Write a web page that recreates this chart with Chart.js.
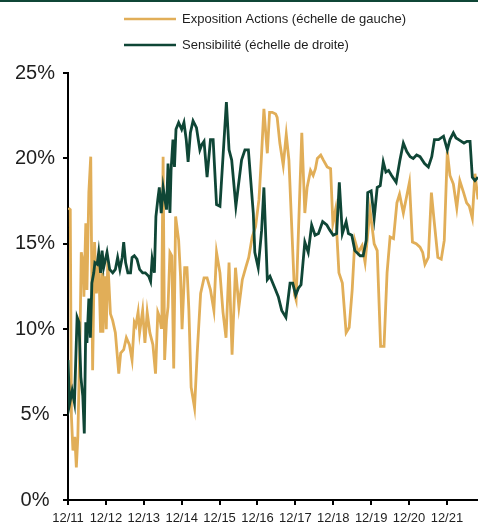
<!DOCTYPE html>
<html>
<head>
<meta charset="utf-8">
<script src="https://cdn.jsdelivr.net/npm/chart.js@4/dist/chart.umd.min.js"></script>
<style>
  html,body{margin:0;padding:0;background:#fff}
  #wrap{width:478px;height:525px;position:relative}
</style>
</head>
<body>
<div id="wrap"><canvas id="c" width="478" height="525"></canvas></div>
<script>
// x = years since 12/2011, y = %
const yearLabels = ['12/11','12/12','12/13','12/14','12/15','12/16','12/17','12/18','12/19','12/20','12/21'];
const legendNames = ['Exposition Actions (échelle de gauche)', 'Sensibilité (échelle de droite)'];

const exposition = [
  [0.01,17.1],[0.06,17.0],[0.09,4.9],[0.13,2.9],[0.18,3.7],[0.22,1.9],[0.26,3.7],[0.32,10.0],
  [0.35,14.5],[0.40,13.9],[0.42,11.9],[0.47,16.2],[0.50,12.3],[0.55,18.0],[0.60,20.1],[0.65,7.6],
  [0.70,15.1],[0.75,12.1],[0.81,13.9],[0.86,9.8],[0.90,13.3],[0.92,9.8],[0.99,13.1],[1.01,10.0],
  [1.05,14.0],[1.12,10.9],[1.18,10.5],[1.25,9.8],[1.34,7.4],[1.39,8.6],[1.47,8.8],[1.54,9.5],
  [1.62,9.1],[1.69,8.2],[1.75,10.4],[1.79,10.2],[1.85,11.0],[1.89,9.8],[1.97,11.1],[2.03,9.2],
  [2.09,11.0],[2.16,9.8],[2.24,9.1],[2.31,7.4],[2.37,11.0],[2.42,10.7],[2.46,10.1],[2.48,13.3],
  [2.51,20.1],[2.55,8.2],[2.60,10.5],[2.64,11.3],[2.69,14.5],[2.74,14.3],[2.79,7.7],[2.84,16.6],
  [2.92,15.2],[2.97,13.1],[3.01,10.0],[3.08,13.6],[3.14,13.6],[3.19,11.1],[3.25,6.6],[3.34,5.4],
  [3.41,8.6],[3.50,12.1],[3.59,13.0],[3.67,13.0],[3.76,12.3],[3.85,11.1],[3.92,14.5],[4.01,13.3],
  [4.09,11.0],[4.17,9.5],[4.25,13.9],[4.33,8.5],[4.42,13.6],[4.51,11.3],[4.60,12.9],[4.69,13.6],
  [4.77,14.2],[4.86,15.4],[4.95,16.0],[5.04,17.6],[5.10,19.9],[5.17,22.9],[5.26,20.3],[5.32,22.7],
  [5.39,22.7],[5.48,22.6],[5.52,22.4],[5.59,20.9],[5.68,19.6],[5.76,21.4],[5.83,19.9],[5.98,12.0],
  [6.02,11.7],[6.17,21.5],[6.25,16.8],[6.31,18.3],[6.40,19.3],[6.47,19.0],[6.53,19.4],[6.58,20.0],
  [6.67,20.2],[6.74,19.9],[6.84,19.5],[6.93,19.4],[6.99,16.2],[7.06,17.0],[7.15,13.3],[7.24,12.7],
  [7.34,9.8],[7.42,10.1],[7.50,12.3],[7.57,15.2],[7.66,14.5],[7.76,14.9],[7.84,13.9],[7.97,17.0],
  [8.08,15.0],[8.16,14.6],[8.25,9.0],[8.34,9.0],[8.42,13.3],[8.50,15.4],[8.59,15.3],[8.68,17.4],
  [8.75,17.9],[8.85,16.8],[9.01,18.6],[9.09,15.1],[9.19,15.0],[9.29,14.8],[9.36,14.5],[9.42,13.8],
  [9.51,14.2],[9.59,18.0],[9.66,16.4],[9.76,14.2],[9.85,14.1],[9.93,15.2],[10.01,20.4],[10.08,19.0],
  [10.17,18.5],[10.26,17.1],[10.34,18.7],[10.44,18.0],[10.52,17.4],[10.59,17.2],[10.67,16.5],[10.74,19.1],
  [10.82,17.6]
];

// plotted against a hidden right axis, read in left-axis units
const sensibilite = [
  [0.00,8.2],[0.04,5.6],[0.11,6.4],[0.17,5.7],[0.24,10.7],[0.29,10.4],[0.34,7.2],[0.39,6.1],
  [0.43,3.9],[0.47,10.4],[0.50,9.2],[0.55,11.8],[0.59,9.5],[0.63,12.7],[0.68,13.3],[0.71,13.9],
  [0.77,13.8],[0.81,14.5],[0.86,13.3],[0.90,14.6],[0.94,13.6],[0.99,14.1],[1.03,14.5],[1.10,13.5],
  [1.18,13.3],[1.25,13.5],[1.31,14.2],[1.37,13.5],[1.43,14.2],[1.47,15.1],[1.52,13.9],[1.58,13.3],
  [1.65,13.3],[1.69,14.2],[1.75,14.3],[1.82,14.1],[1.89,13.5],[1.97,13.3],[2.04,13.3],[2.13,13.1],
  [2.18,12.8],[2.22,14.1],[2.28,13.3],[2.32,16.6],[2.37,17.6],[2.41,18.3],[2.46,16.8],[2.51,18.3],
  [2.55,17.7],[2.60,17.0],[2.64,19.7],[2.69,16.8],[2.72,19.3],[2.77,21.1],[2.81,19.5],[2.85,21.7],
  [2.92,22.1],[3.00,21.7],[3.06,22.1],[3.12,21.1],[3.17,19.8],[3.23,21.5],[3.30,22.2],[3.39,21.8],
  [3.48,20.5],[3.53,20.8],[3.59,21.0],[3.67,18.9],[3.76,21.1],[3.83,21.1],[3.92,17.3],[4.01,17.2],
  [4.18,23.3],[4.25,20.5],[4.32,19.9],[4.43,17.2],[4.58,19.9],[4.67,20.5],[4.76,20.5],[4.89,16.8],
  [4.93,14.5],[5.02,13.6],[5.11,15.8],[5.17,18.3],[5.26,12.9],[5.33,13.1],[5.46,12.4],[5.55,11.9],
  [5.64,11.1],[5.75,10.7],[5.86,12.7],[5.93,12.7],[6.01,12.0],[6.08,12.4],[6.15,12.6],[6.25,15.1],
  [6.34,14.5],[6.43,16.1],[6.52,15.5],[6.61,15.6],[6.72,16.3],[6.83,16.1],[6.91,15.8],[7.00,15.5],
  [7.09,15.6],[7.16,18.6],[7.24,15.6],[7.34,16.3],[7.40,15.6],[7.49,15.5],[7.57,14.6],[7.71,14.3],
  [7.79,14.3],[7.87,15.2],[7.91,18.0],[8.00,18.1],[8.08,16.5],[8.16,18.3],[8.24,18.4],[8.32,19.8],
  [8.39,19.2],[8.46,19.3],[8.54,19.0],[8.66,18.6],[8.76,19.9],[8.85,20.9],[8.94,20.4],[9.03,20.1],
  [9.11,20.0],[9.20,20.2],[9.29,20.1],[9.41,19.7],[9.51,19.5],[9.60,20.1],[9.67,21.1],[9.78,21.1],
  [9.91,21.3],[10.01,20.5],[10.08,21.1],[10.17,21.5],[10.24,21.2],[10.31,21.1],[10.38,21.0],[10.45,20.9],
  [10.53,21.0],[10.61,21.0],[10.67,18.9],[10.74,18.7],[10.82,18.9]
];

const GOLD = '#e1ae58';
const GREEN = '#0f4636';
const INK = '#1e1e1e';
const FONT = '"Liberation Sans", Arial, sans-serif';

const topDeco = {
  id:'topDeco',
  afterDraw(chart){
    const ctx = chart.ctx;
    ctx.save();
    ctx.fillStyle = GREEN;
    ctx.fillRect(0,0,chart.width,2);
    const items = [[GOLD,19],[GREEN,45]];
    items.forEach(([col,y],i)=>{
      ctx.strokeStyle = col; ctx.lineWidth = 2.5;
      ctx.beginPath(); ctx.moveTo(124,y); ctx.lineTo(176,y); ctx.stroke();
      ctx.fillStyle = INK; ctx.font = '13px '+FONT; ctx.textBaseline = 'middle';
      ctx.fillText(legendNames[i],182,y);
    });
    ctx.restore();
  }
};

new Chart(document.getElementById('c'), {
  type:'line',
  data:{ datasets:[
    { label:legendNames[0], data:exposition.map(([x,y])=>({x,y})), borderColor:GOLD, borderWidth:2.8, pointRadius:0, tension:0, yAxisID:'y', order:2 },
    { label:legendNames[1], data:sensibilite.map(([x,y])=>({x,y})), borderColor:GREEN, borderWidth:2.8, pointRadius:0, tension:0, yAxisID:'y2', order:1 }
  ]},
  options:{
    responsive:false, animation:false, devicePixelRatio:1,
    layout:{ padding:{ top:73, right:0, left:0, bottom:0 } },
    plugins:{ legend:{ display:false }, tooltip:{ enabled:false } },
    scales:{
      x:{ type:'linear', min:0, max:10.82,
        afterFit:s=>{ s.height = 25; },
        afterBuildTicks:s=>{ s.ticks = yearLabels.map((_,i)=>({ value:i })); },
        ticks:{ callback:v=>yearLabels[v], color:INK, font:{ family:FONT, size:13 }, padding:6, maxRotation:0, autoSkip:false },
        grid:{ drawOnChartArea:false, drawTicks:true, tickLength:5, color:'#000', lineWidth:2 },
        border:{ display:true, color:'#000', width:2 } },
      y:{ min:0, max:25,
        afterFit:s=>{ s.width = 68; },
        ticks:{ stepSize:5, callback:v=>v+'%', color:INK, font:{ family:FONT, size:20 }, padding:8, crossAlign:'center' },
        grid:{ drawOnChartArea:false, drawTicks:true, tickLength:5, color:'#000', lineWidth:2 },
        border:{ display:true, color:'#000', width:2 } },
      y2:{ display:false, min:0, max:25, position:'right' }
    }
  },
  plugins:[topDeco]
});
</script>
</body>
</html>
